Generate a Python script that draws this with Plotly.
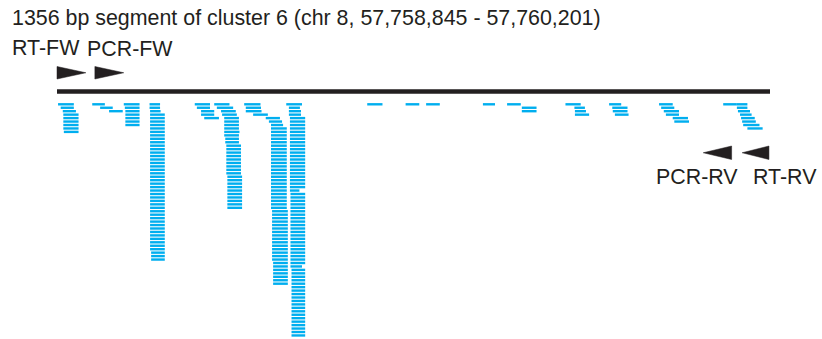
import plotly.graph_objects as go

# ---- data -------------------------------------------------------------
SEGMENT_BP = 1356
TITLE = "1356 bp segment of cluster 6 (chr 8, 57,758,845 - 57,760,201)"

# primers (bp within the segment)
PRIMER_NAMES = ["RT-FW", "PCR-FW", "PCR-RV", "RT-RV"]
PRIMER_START = [0, 72, 1229, 1303]
PRIMER_END = [55, 127, 1283, 1354]
PRIMER_STRAND = ["+", "+", "-", "-"]

# mapped reads, one list per pile: (start bp, end bp, number of stacked copies)
PILE_A = [(2, 32, 1), (7, 32, 1), (11, 36, 1), (12, 41, 5), (13, 41, 1)]
PILE_B = [(67, 91, 1), (82, 106, 1), (99, 125, 1)]
PILE_C = [(127, 157, 1), (129, 157, 1), (130, 157, 5)]
PILE_D = [(176, 196, 2), (177, 197, 1), (177, 205, 40), (179, 205, 3)]
PILE_E = [(262, 291, 1), (266, 291, 1), (274, 299, 2), (280, 308, 1)]
PILE_F = [(299, 328, 1), (304, 335, 1), (312, 340, 1), (314, 342, 1),
          (318, 346, 4), (318, 347, 1), (318, 346, 1), (320, 346, 2),
          (322, 350, 9), (324, 352, 10)]
PILE_G = [(356, 387, 1), (359, 388, 1), (359, 389, 1), (373, 401, 1),
          (397, 424, 1), (403, 428, 1), (407, 430, 1), (407, 437, 24),
          (409, 439, 15), (411, 439, 7)]
PILE_H = [(436, 466, 1), (441, 462, 1), (441, 464, 2), (443, 472, 21),
          (443, 461, 1), (444, 472, 21), (444, 466, 1), (446, 472, 20)]
PILE_I = [(590, 619, 1)]
PILE_J = [(663, 689, 1)]
PILE_K = [(702, 728, 1)]
PILE_L = [(810, 833, 1)]
PILE_M = [(856, 882, 1), (884, 912, 2)]
PILE_N = [(967, 996, 1), (984, 1004, 1), (985, 1006, 1), (985, 1012, 1)]
PILE_O = [(1050, 1073, 1), (1056, 1085, 1), (1057, 1085, 1), (1061, 1087, 1)]
PILE_P = [(1145, 1171, 1), (1149, 1174, 1), (1154, 1183, 1), (1158, 1183, 1),
          (1171, 1200, 1), (1174, 1202, 1)]
PILE_Q = [(1267, 1293, 1)]
PILE_R = [(1293, 1313, 2), (1295, 1318, 1), (1299, 1321, 1), (1301, 1327, 1),
          (1303, 1329, 1), (1305, 1336, 1), (1313, 1342, 1)]

PILES = [PILE_A, PILE_B, PILE_C, PILE_D, PILE_E, PILE_F, PILE_G, PILE_H,
         PILE_I, PILE_J, PILE_K, PILE_L, PILE_M, PILE_N, PILE_O, PILE_P,
         PILE_Q, PILE_R]

# ---- page geometry (pixels) -------------------------------------------
W, H = 822, 339
PX_SEG_LEFT, PX_SEG_RIGHT = 57, 770
ROW0_PX, ROW_STEP_PX = 104.3, 3.45
BP_PER_PX = SEGMENT_BP / (PX_SEG_RIGHT - PX_SEG_LEFT)

READ_COLOR = "#00AEEF"
INK = "#231F20"
FONT = "Liberation Sans, Arial, sans-serif"
FONT_SIZE = 21.4


def row_of_px(py):
    return (py - ROW0_PX) / ROW_STEP_PX


x_range = [-PX_SEG_LEFT * BP_PER_PX, (W - PX_SEG_LEFT) * BP_PER_PX]
y_range = [row_of_px(H), row_of_px(0)]

fig = go.Figure()

# reads, stacked one per row inside each pile
rx, ry = [], []
for pile in PILES:
    row = 0
    for start, end, copies in pile:
        for _ in range(copies):
            rx += [start, end, None]
            ry += [row, row, None]
            row += 1
fig.add_trace(go.Scatter(x=rx, y=ry, mode="lines",
                         line=dict(color=READ_COLOR, width=2.4),
                         hoverinfo="skip", showlegend=False))

# genomic segment bar
seg_row = row_of_px(91.5)
fig.add_trace(go.Scatter(x=[0, SEGMENT_BP], y=[seg_row, seg_row], mode="lines",
                         line=dict(color=INK, width=4.5),
                         hoverinfo="skip", showlegend=False))

# primer arrowheads
for name, s, e, strand in zip(PRIMER_NAMES, PRIMER_START, PRIMER_END, PRIMER_STRAND):
    if strand == "+":
        top, bot = row_of_px(66.5), row_of_px(79)
        xs = [s, e, s, s]
        ys = [top, (top + bot) / 2, bot, top]
    else:
        top, bot = row_of_px(146), row_of_px(159.5)
        xs = [e, s, e, e]
        ys = [top, (top + bot) / 2, bot, top]
    fig.add_trace(go.Scatter(x=xs, y=ys, mode="lines", fill="toself",
                             fillcolor=INK, line=dict(color=INK, width=0.5),
                             hoverinfo="skip", showlegend=False))


def label(text, px_left, px_top):
    fig.add_annotation(text=text, xref="paper", yref="paper",
                       x=px_left / W, y=1 - px_top / H,
                       xanchor="left", yanchor="top", showarrow=False,
                       borderpad=0, font=dict(family=FONT, size=FONT_SIZE, color=INK))


label(TITLE, 11, 4.5)
label(PRIMER_NAMES[0], 11, 35.5)
label(PRIMER_NAMES[1], 86, 35.5)
label(PRIMER_NAMES[2], 655, 163.5)
label(PRIMER_NAMES[3], 752, 163.5)

fig.update_xaxes(range=x_range, visible=False, fixedrange=True)
fig.update_yaxes(range=y_range, visible=False, fixedrange=True)
fig.update_layout(width=W, height=H, autosize=False,
                  margin=dict(l=0, r=0, t=0, b=0, pad=0),
                  paper_bgcolor="white", plot_bgcolor="white")

fig.write_html("out.html")
